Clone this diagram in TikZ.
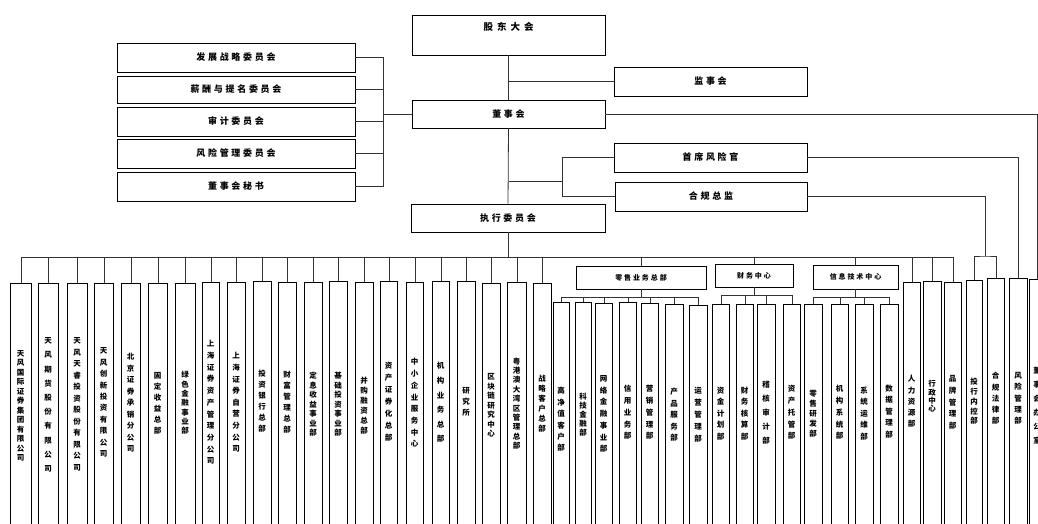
\documentclass[tikz,border=0pt]{standalone}
\usepackage{fontspec}
\newfontfamily\cjk{Noto Sans CJK SC}
\tikzset{
  box/.style={draw=black, line width=0.9pt, rectangle, inner sep=0pt},
  topfont/.style={font=\cjk\bfseries\fontsize{9}{11}\selectfont},
  grpfont/.style={font=\cjk\bfseries\fontsize{7}{9}\selectfont},
  colbox/.style={draw=black, line width=0.9pt, rectangle, inner sep=0pt, anchor=north west},
  vtext/.style={inner sep=0pt, align=center},
  conn/.style={draw=black!80, line width=0.8pt},
}
\def\TzGapA{\hspace{2.7pt}}
\def\TzGapB{\hspace{1.9pt}}
\def\TzCol#1#2#3#4#5#6#7{%
  \node[colbox, minimum width={#3pt-#2pt}, minimum height={560pt-#4pt}] (#1) at (#2,#4) {};
  \node[vtext, font=\cjk\bfseries\fontsize{7.5}{#6}\selectfont] (#1t) at ({(#2+#3)/2},#5) {#7};
}
\begin{document}
\begin{tikzpicture}[x=1pt,y=-1pt]
\useasboundingbox (0,0) rectangle (1038,524);
\fill[white] (0,0) rectangle (1038,524);

% top level boxes
\node[box, minimum width=193pt, minimum height=40pt] (gd) at (508.5,35) {};
\node[font=\cjk\bfseries\fontsize{9.5}{11}\selectfont, inner sep=0pt] (gdt) at (508.5,27) {股\hspace{4pt}东\hspace{4pt}大\hspace{4pt}会};
\node[box, topfont, minimum width=193pt, minimum height=29pt] (js) at (710.5,81.5) {监\TzGapA 事\TzGapA 会};
\node[box, topfont, minimum width=193pt, minimum height=28pt] (ds) at (508.5,114) {董\TzGapA 事\TzGapA 会};
\node[box, topfont, minimum width=193pt, minimum height=29pt] (cro) at (710.5,157.5) {首\TzGapA 席\TzGapA 风\TzGapA 险\TzGapA 官};
\node[box, topfont, minimum width=192pt, minimum height=29pt] (cc) at (711,196.5) {合\TzGapA 规\TzGapA 总\TzGapA 监};
\node[box, topfont, minimum width=194pt, minimum height=28pt] (ex) at (508,218) {执\TzGapA 行\TzGapA 委\TzGapA 员\TzGapA 会};

% committees
\node[box, topfont, minimum width=238pt, minimum height=29pt] (k1) at (236,57.5) {发\TzGapA 展\TzGapA 战\TzGapA 略\TzGapA 委\TzGapA 员\TzGapA 会};
\node[box, topfont, minimum width=238pt, minimum height=27pt] (k2) at (236,89.5) {薪\TzGapA 酬\TzGapA 与\TzGapA 提\TzGapA 名\TzGapA 委\TzGapA 员\TzGapA 会};
\node[box, topfont, minimum width=238pt, minimum height=29pt] (k3) at (236,121.5) {审\TzGapA 计\TzGapA 委\TzGapA 员\TzGapA 会};
\node[box, topfont, minimum width=238pt, minimum height=29pt] (k4) at (236,153.5) {风\TzGapA 险\TzGapA 管\TzGapA 理\TzGapA 委\TzGapA 员\TzGapA 会};
\node[box, topfont, minimum width=238pt, minimum height=29pt] (k5) at (236,186.5) {董\TzGapA 事\TzGapA 会\TzGapA 秘\TzGapA 书};

% group boxes
\node[box, grpfont, minimum width=130pt, minimum height=23pt] (ls) at (641,277.5) {零\TzGapB 售\TzGapB 业\TzGapB 务\TzGapB 总\TzGapB 部};
\node[box, grpfont, minimum width=78pt, minimum height=23pt] (cw) at (754,275.5) {财\TzGapB 务\TzGapB 中\TzGapB 心};
\node[box, grpfont, minimum width=85pt, minimum height=24pt] (it) at (855.5,277) {信\TzGapB 息\TzGapB 技\TzGapB 术\TzGapB 中\TzGapB 心};

% columns
\TzCol{c1}{10}{31}{283}{406}{9.5}{天\\风\\国\\际\\证\\券\\集\\团\\有\\限\\公\\司}
\TzCol{c2}{38}{58}{283}{405}{14.2}{天\\风\\期\\货\\股\\份\\有\\限\\公\\司}
\TzCol{c3}{67}{87}{283}{404.5}{11.5}{天\\风\\天\\睿\\投\\资\\股\\份\\有\\限\\公\\司}
\TzCol{c4}{94}{113}{283}{402.5}{11.4}{天\\风\\创\\新\\投\\资\\有\\限\\公\\司}
\TzCol{c5}{121}{140}{283}{403}{11.5}{北\\京\\证\\券\\承\\销\\分\\公\\司}
\TzCol{c6}{148}{167}{283}{403.5}{11}{固\\定\\收\\益\\总\\部}
\TzCol{c7}{175}{195}{283}{403}{9.3}{绿\\色\\金\\融\\事\\业\\部}
\TzCol{c8}{202}{219}{282}{402.5}{11.7}{上\\海\\证\\券\\资\\产\\管\\理\\分\\公\\司}
\TzCol{c9}{227}{245}{282}{402.5}{11.6}{上\\海\\证\\券\\自\\营\\分\\公\\司}
\TzCol{c10}{253}{271}{281}{401.5}{11}{投\\资\\银\\行\\总\\部}
\TzCol{c11}{278}{296}{282}{402.5}{11}{财\\富\\管\\理\\总\\部}
\TzCol{c12}{304}{322}{282}{404.5}{9.5}{定\\息\\收\\益\\事\\业\\部}
\TzCol{c13}{329}{347}{281}{404.5}{9.5}{基\\础\\投\\资\\事\\业\\部}
\TzCol{c14}{355}{373}{282}{406}{10}{并\\购\\融\\资\\总\\部}
\TzCol{c15}{380}{397}{281}{402}{12}{资\\产\\证\\券\\化\\总\\部}
\TzCol{c16}{406}{423}{282}{403}{11.7}{中\\小\\企\\业\\服\\务\\中\\心}
\TzCol{c17}{432}{449}{281}{402.5}{14.6}{机\\构\\业\\务\\总\\部}
\TzCol{c18}{457}{475}{281}{402}{11}{研\\究\\所}
\TzCol{c19}{482}{500}{283}{405.5}{9.5}{区\\块\\链\\研\\究\\中\\心}
\TzCol{c20}{507}{526}{282}{403.5}{9.4}{粤\\港\\澳\\大\\湾\\区\\管\\理\\总\\部}
\TzCol{c21}{533}{551}{283}{404}{10}{战\\略\\客\\户\\总\\部}
\TzCol{c22}{553}{569}{302}{419.5}{11.4}{高\\净\\值\\客\\户\\部}
\TzCol{c23}{575}{591}{302}{415}{9}{科\\技\\金\\融\\部}
\TzCol{c24}{595}{612}{303}{414}{11.7}{网\\络\\金\\融\\事\\业\\部}
\TzCol{c25}{619}{636}{302}{412.5}{11.7}{信\\用\\业\\务\\部}
\TzCol{c26}{641}{658}{303}{412.5}{11.7}{营\\销\\管\\理\\部}
\TzCol{c27}{665}{683}{304}{415}{11.5}{产\\品\\服\\务\\部}
\TzCol{c28}{689}{707}{305}{414.5}{12}{运\\营\\管\\理\\部}
\TzCol{c29}{712}{729}{304}{413.5}{11.5}{资\\金\\计\\划\\部}
\TzCol{c30}{736}{753}{304}{413.5}{11.5}{财\\务\\核\\算\\部}
\TzCol{c31}{757}{775}{304}{412.5}{14}{稽\\核\\审\\计\\部}
\TzCol{c32}{783}{800}{304}{412.5}{11.7}{资\\产\\托\\管\\部}
\TzCol{c33}{804}{822}{304}{414}{10}{零\\售\\研\\发\\部}
\TzCol{c34}{831}{848}{304}{412.5}{11.7}{机\\构\\系\\统\\部}
\TzCol{c35}{855}{873}{304}{413.5}{11.5}{系\\统\\运\\维\\部}
\TzCol{c36}{880}{898}{304}{411.5}{11.5}{数\\据\\管\\理\\部}
\TzCol{c37}{903}{920}{282}{401.5}{11.3}{人\\力\\资\\源\\部}
\TzCol{c38}{923}{941}{281}{396.5}{8.3}{行\\政\\中\\心}
\TzCol{c39}{944}{961}{282}{402.5}{11.7}{品\\牌\\管\\理\\部}
\TzCol{c40}{966}{982}{280}{401.5}{9.7}{投\\行\\内\\控\\部}
\TzCol{c41}{987}{1004}{278}{398.5}{11.3}{合\\规\\法\\律\\部}
\TzCol{c42}{1009}{1027}{278}{398.5}{11.3}{风\\险\\管\\理\\部}
\TzCol{c43}{1029}{1045}{279}{406}{14}{董\\事\\会\\办\\公\\室}

% connectors, upper part
\coordinate (cb) at (383,114);
\foreach \k in {k1,k2,k3,k4,k5} \draw[conn] (\k.east) -| (cb);
\draw[conn] (cb) -- (ds.west);
\draw[conn] (gd.south) -- (ds.north);
\draw[conn] (js.west) -- (js.west -| gd.south);
\draw[conn] (ds.south) -- (ex.north);
\coordinate (rb) at (562,181);
\draw[conn] (rb -| ds.south) -- (rb);
\draw[conn] (cro.west) -| (rb);
\draw[conn] (cc.west) -| (rb);
\draw[conn] (ds.east) -| (c43.north);
\draw[conn] (cro.east) -| (c42.north);
\coordinate (ccb) at (985,256);
\draw[conn] (cc.east) -| (ccb);
\draw[conn] (c40.north) |- (ccb) -| (c41.north);

% main bus
\coordinate (bus) at (508,257);
\draw[conn] (ex.south) -- (ex.south |- bus);
\draw[conn] (c1.north |- bus) -- (c39.north |- bus);
\foreach \i in {1,...,21,37,38,39} \draw[conn] (c\i.north) -- (c\i.north |- bus);
\foreach \g in {ls,cw,it} \draw[conn] (\g.north) -- (\g.north |- bus);

% sub buses
\coordinate (lsb) at (641,297);
\draw[conn] (ls.south) -- (lsb);
\draw[conn] (c22.north |- lsb) -- (c28.north |- lsb);
\foreach \i in {22,...,28} \draw[conn] (c\i.north) -- (c\i.north |- lsb);
\coordinate (cwb) at (754,295);
\draw[conn] (cw.south) -- (cwb);
\draw[conn] (c29.north |- cwb) -- (c32.north |- cwb);
\foreach \i in {29,...,32} \draw[conn] (c\i.north) -- (c\i.north |- cwb);
\coordinate (itb) at (855.5,297);
\draw[conn] (it.south) -- (itb);
\draw[conn] (c33.north |- itb) -- (c36.north |- itb);
\foreach \i in {33,...,36} \draw[conn] (c\i.north) -- (c\i.north |- itb);
\end{tikzpicture}
\end{document}
